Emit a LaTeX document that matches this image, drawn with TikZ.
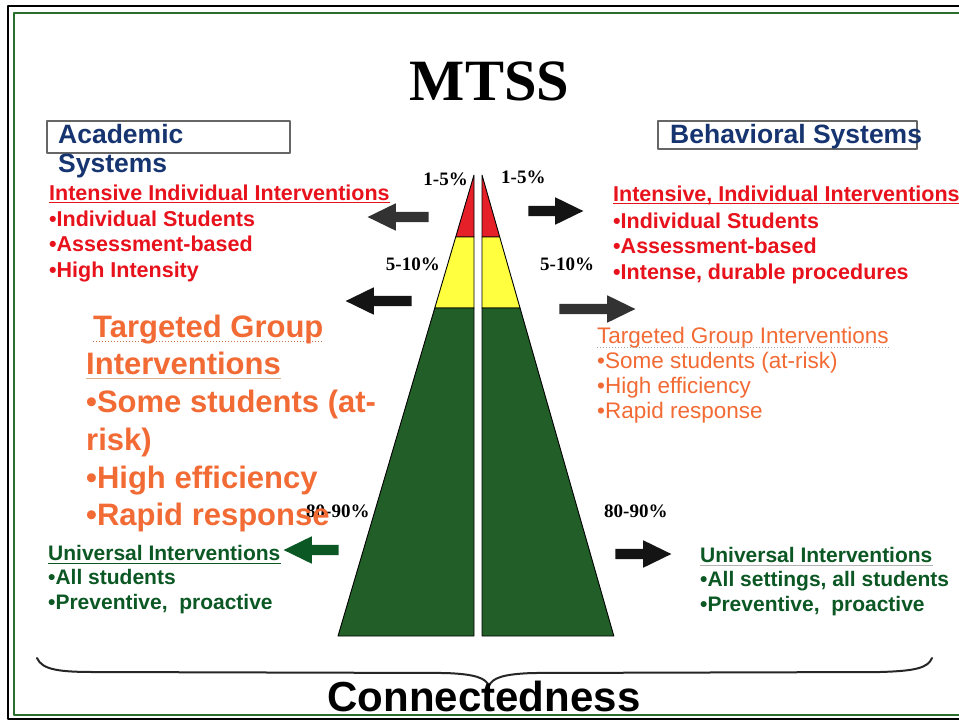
\documentclass[tikz,border=0pt]{standalone}
\usepackage{fontspec}
\setmainfont{Liberation Serif}
\setsansfont{Liberation Sans}
\usetikzlibrary{shapes.arrows}
\definecolor{tierred}{RGB}{230,32,40}
\definecolor{tieryellow}{RGB}{255,255,64}
\definecolor{tiergreen}{RGB}{34,94,40}
\definecolor{framegreen}{RGB}{40,110,45}
\definecolor{navytext}{RGB}{22,52,112}
\definecolor{intred}{RGB}{232,18,28}
\definecolor{targetorange}{RGB}{242,106,52}
\definecolor{univgreen}{RGB}{12,88,36}
\definecolor{arrowgray}{RGB}{50,50,50}
\definecolor{arrowblack}{RGB}{20,20,20}
\tikzset{
  tier/.style={draw=black, line width=0.9pt},
  pct/.style={inner sep=0, font=\rmfamily\bfseries\fontsize{19}{19}\selectfont},
  sysbox/.style={draw=black!60, line width=1.2pt},
  systxt/.style={anchor=base west, inner sep=0, text=navytext, font=\sffamily\bfseries\fontsize{26.5}{30}\selectfont},
  intense/.style={anchor=base west, inner sep=0, text=intred, font=\sffamily\bfseries\fontsize{21.5}{25}\selectfont},
  bigtarget/.style={anchor=base west, inner sep=0, text=targetorange, font=\sffamily\bfseries\fontsize{31}{37}\selectfont},
  target/.style={anchor=base west, inner sep=0, text=targetorange, font=\sffamily\fontsize{22.5}{25}\selectfont},
  universal/.style={anchor=base west, inner sep=0, text=univgreen, font=\sffamily\bfseries\fontsize{21}{24}\selectfont},
  blockarrow/.style={single arrow, draw=none, inner sep=5pt, single arrow head extend=8.5pt,
    single arrow tip angle=52, minimum height=#1}
}
\begin{document}
\begin{tikzpicture}[x=1pt, y=-1pt, line join=round]
  \useasboundingbox (0,0) rectangle (959,721);
  \fill[white] (0,0) rectangle (959,721);
  % frame
  \draw[black, line width=1.6pt] (8,6) rectangle (990,719);
  \draw[framegreen, line width=2.8pt] (14,13) rectangle (985,715);
  \node[inner sep=0, font=\rmfamily\bfseries\fontsize{58.5}{58.5}\selectfont] (title) at (489.5,100) [anchor=base] {MTSS};
  % pyramid halves
  \foreach \ya/\yb/\c in {175/237/tierred, 237/308/tieryellow, 308/636/tiergreen}{
    \filldraw[tier, fill=\c] ({474-0.295*(\ya-175)},\ya) -- ({474-0.295*(\yb-175)},\yb) -- (474,\yb) -- (474,\ya) -- cycle;
    \filldraw[tier, fill=\c] ({482+0.286*(\ya-175)},\ya) -- ({482+0.286*(\yb-175)},\yb) -- (482,\yb) -- (482,\ya) -- cycle;
  }
  \node[pct, anchor=base east] (lp1) at (468,185) {1-5\%};
  \node[pct, anchor=base west] (rp1) at (501,183) {1-5\%};
  \node[pct, anchor=base east] (lp2) at (440,270) {5-10\%};
  \node[pct, anchor=base west] (rp2) at (540,270) {5-10\%};
  \node[pct, anchor=base west] (lp3) at (306,517) {80-90\%};
  \node[pct, anchor=base west] (rp3) at (604,517) {80-90\%};
  % arrows
  \node[blockarrow=61, fill=arrowgray, shape border rotate=180] (la1) at (403.5,217) {};
  \node[blockarrow=55, fill=arrowblack] (ra1) at (550.5,211) {};
  \node[blockarrow=66, fill=arrowblack, shape border rotate=180] (la2) at (384,301) {};
  \node[blockarrow=76, fill=arrowgray] (ra2) at (592,309) {};
  \node[blockarrow=55, fill=univgreen, shape border rotate=180] (la3) at (316.5,550) {};
  \node[blockarrow=56, fill=arrowblack] (ra3) at (638,554) {};
  % system boxes
  \draw[sysbox] (47,121) rectangle (290,153);
  \draw[sysbox] (658,121) rectangle (917,149);
  \node[systxt] (acad1) at (58,143) {Academic};
  \node[systxt] (acad2) at (58,172) {Systems};
  \node[systxt] (behav) at (670,143) {Behavioral Systems};
  % intensive tier
  \node[intense] (lhead) at (49,200) {Intensive Individual Interventions};
  \draw[intred, line width=0.8pt] ([yshift=-2.5pt]lhead.base west) -- ([yshift=-2.5pt]lhead.base east);
  \foreach \t/\yy [count=\i] in {Individual Students/226, Assessment-based/251, High Intensity/277}
    \node[intense] (lb\i) at (49,\yy) {•\t};
  \node[intense] (rhead) at (613,201) {Intensive, Individual Interventions};
  \draw[intred, line width=0.8pt] ([yshift=-2.5pt]rhead.base west) -- ([yshift=-2.5pt]rhead.base east);
  \foreach \t/\yy [count=\i] in {Individual Students/228, Assessment-based/253, {Intense, durable procedures}/279}
    \node[intense] (rb\i) at (613,\yy) {•\t};
  % targeted tier
  \node[bigtarget] (lt1) at (93,337) {Targeted Group};
  \draw[targetorange!70!gray, dotted, line width=1pt] ([yshift=-4pt]lt1.base west) -- ([yshift=-4pt]lt1.base east);
  \node[bigtarget] (lt2) at (86,374) {Interventions};
  \draw[brown!60, line width=1pt] ([yshift=-4.5pt]lt2.base west) -- ([yshift=-4.5pt]lt2.base east);
  \foreach \t/\yy [count=\i] in {•Some students (at-/412, risk)/450, •High efficiency/488, •Rapid response/525}
    \node[bigtarget] (ltb\i) at (86,\yy) {\t};
  \node[target] (rt) at (597,343) {Targeted Group Interventions};
  \draw[gray!70, dotted, line width=1pt] ([yshift=-4pt]rt.base west) -- ([yshift=-4pt]rt.base east);
  \foreach \t/\yy [count=\i] in {Some students (at-risk)/368, High efficiency/393, Rapid response/418}
    \node[target] (rtb\i) at (597,\yy) {•\t};
  % universal tier
  \node[universal] (lu) at (48,560) {Universal Interventions};
  \draw[univgreen, line width=0.8pt] ([yshift=-3pt]lu.base west) -- ([yshift=-3pt]lu.base east);
  \foreach \t/\yy [count=\i] in {All students/584, {Preventive,~ proactive}/609}
    \node[universal] (lub\i) at (48,\yy) {•\t};
  \node[universal] (ru) at (700,562) {Universal Interventions};
  \draw[gray!60, line width=0.8pt] ([yshift=-3pt]ru.base west) -- ([yshift=-3pt]ru.base east);
  \foreach \t/\yy [count=\i] in {{All settings, all students}/586, {Preventive,~ proactive}/611}
    \node[universal] (rub\i) at (700,\yy) {•\t};
  % brace
  \draw[black!85, line width=2pt, line cap=round] (37,658) .. controls (42,670) and (60,672) .. (95,672) -- (445,673)
    .. controls (475,674) and (486,678) .. (489,686) .. controls (492,678) and (503,674) .. (533,673)
    -- (880,672) .. controls (915,671) and (928,668) .. (932,658);
  \node[inner sep=0, anchor=base, font=\sffamily\bfseries\fontsize{42}{42}\selectfont] (conn) at (484,711) {Connectedness};
\end{tikzpicture}
\end{document}
